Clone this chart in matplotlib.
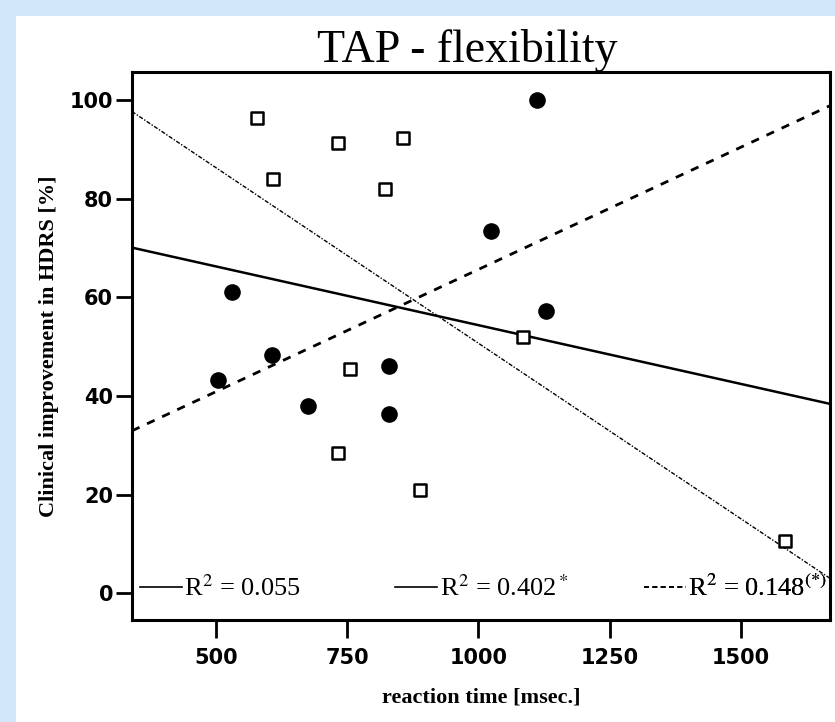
import numpy as np
import matplotlib
matplotlib.use("Agg")
import matplotlib.pyplot as plt
from matplotlib.patches import Rectangle

plt.rcParams['mathtext.fontset'] = 'stix'

# filled circles (group 1)
x_filled = [504, 530, 606, 675, 829, 829, 1025, 1111, 1129]
y_filled = [43.2, 61.1, 48.3, 37.9, 46.0, 36.3, 73.5, 100.0, 57.3]

# open squares (group 2)
x_open = [578, 608, 732, 732, 756, 822, 857, 888, 1085, 1585]
y_open = [96.5, 84.1, 91.3, 28.5, 45.4, 82.1, 92.4, 20.9, 52.0, 10.6]

x_ticks = [500, 750, 1000, 1250, 1500]
y_ticks = [0, 20, 40, 60, 80, 100]

legend_labels = [r"R$^2$ = 0.055", r"R$^2$ = 0.402$^*$", r"R$^2$ = 0.148$^{(*)}$"]

serif = ['Liberation Serif', 'DejaVu Serif']

fig = plt.figure(figsize=(8.35, 7.22), dpi=100)
fig.patch.set_facecolor('#d3e7fb')
# white page area inside the light blue frame
fig.add_artist(Rectangle((16 / 835, 0), 1, 1 - 16 / 722, transform=fig.transFigure,
                         facecolor='white', edgecolor='none', zorder=-10))

ax = fig.add_axes([0.158, 0.141, 0.836, 0.759])
ax.set_xlim(340, 1670)
ax.set_ylim(-5.5, 105.7)

xs = np.array([340, 1670])
x_all = np.array(x_filled + x_open)
y_all = np.array(y_filled + y_open)

# regression lines: all, open squares, filled circles
b, a = np.polyfit(x_all, y_all, 1)
ax.plot(xs, a + b * xs, color='black', lw=1.8)
b, a = np.polyfit(x_open, y_open, 1)
ax.plot(xs, a + b * xs, color='black', lw=1.0, ls=(0, (3, 1.2, 1, 1.2)))
b, a = np.polyfit(x_filled, y_filled, 1)
ax.plot(xs, a + b * xs, color='black', lw=2.0, ls=(0, (3, 3)))

ax.scatter(x_filled, y_filled, s=120, color='black', zorder=3)
ax.scatter(x_open, y_open, s=85, marker='s', facecolor='white', edgecolor='black',
           linewidths=1.8, zorder=3)

# three separate legend entries along the bottom
leg_handles = [plt.Line2D([], [], color='black', lw=1.2),
               plt.Line2D([], [], color='black', lw=1.2),
               plt.Line2D([], [], color='black', lw=1.2, ls=(0, (3, 2)))]
for h, lab, fx in zip(leg_handles, legend_labels, [0.011, 0.377, 0.733]):
    lg = ax.legend([h], [lab], loc='lower left', bbox_to_anchor=(fx, 0.035),
                   frameon=False, handlelength=1.6, handletextpad=0.1,
                   borderpad=0, borderaxespad=0, prop={'family': serif, 'size': 19})
    ax.add_artist(lg)

ax.set_xticks(x_ticks)
ax.set_yticks(y_ticks)
ax.tick_params(direction='out', width=2, labelsize=15)
ax.tick_params(axis='x', length=13, pad=7)
ax.tick_params(axis='y', length=11.5, pad=2)
for lab in ax.get_xticklabels() + ax.get_yticklabels():
    lab.set_fontweight('bold')
for sp in ax.spines.values():
    sp.set_linewidth(2.2)

ax.set_xlabel("reaction time [msec.]", family=serif, fontweight='bold', fontsize=16, labelpad=14)
ax.set_ylabel("Clinical improvement in HDRS [%]", family=serif, fontweight='bold', fontsize=16,
              labelpad=8)
ax.set_title("TAP - flexibility", family=serif, fontsize=33, pad=4, x=0.48)

fig.savefig("out.png", dpi=100)
